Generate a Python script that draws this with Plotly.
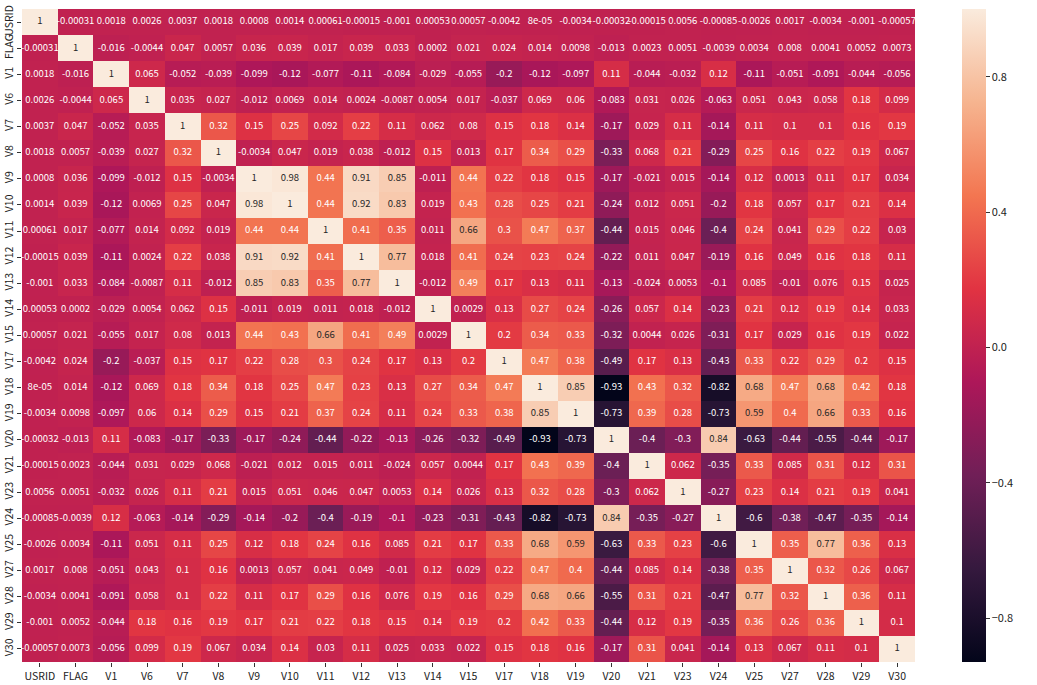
import plotly.graph_objects as go

labels = ["USRID", "FLAG", "V1", "V6", "V7", "V8", "V9", "V10", "V11", "V12", "V13", "V14", "V15",
          "V17", "V18", "V19", "V20", "V21", "V23", "V24", "V25", "V27", "V28", "V29", "V30"]

r_USRID = [1, -0.00031, 0.0018, 0.0026, 0.0037, 0.0018, 0.0008, 0.0014, 0.00061, -0.00015, -0.001, 0.00053, 0.00057, -0.0042, 8e-05, -0.0034, -0.00032, -0.00015, 0.0056, -0.00085, -0.0026, 0.0017, -0.0034, -0.001, -0.00057]
r_FLAG = [-0.00031, 1, -0.016, -0.0044, 0.047, 0.0057, 0.036, 0.039, 0.017, 0.039, 0.033, 0.0002, 0.021, 0.024, 0.014, 0.0098, -0.013, 0.0023, 0.0051, -0.0039, 0.0034, 0.008, 0.0041, 0.0052, 0.0073]
r_V1 = [0.0018, -0.016, 1, 0.065, -0.052, -0.039, -0.099, -0.12, -0.077, -0.11, -0.084, -0.029, -0.055, -0.2, -0.12, -0.097, 0.11, -0.044, -0.032, 0.12, -0.11, -0.051, -0.091, -0.044, -0.056]
r_V6 = [0.0026, -0.0044, 0.065, 1, 0.035, 0.027, -0.012, 0.0069, 0.014, 0.0024, -0.0087, 0.0054, 0.017, -0.037, 0.069, 0.06, -0.083, 0.031, 0.026, -0.063, 0.051, 0.043, 0.058, 0.18, 0.099]
r_V7 = [0.0037, 0.047, -0.052, 0.035, 1, 0.32, 0.15, 0.25, 0.092, 0.22, 0.11, 0.062, 0.08, 0.15, 0.18, 0.14, -0.17, 0.029, 0.11, -0.14, 0.11, 0.1, 0.1, 0.16, 0.19]
r_V8 = [0.0018, 0.0057, -0.039, 0.027, 0.32, 1, -0.0034, 0.047, 0.019, 0.038, -0.012, 0.15, 0.013, 0.17, 0.34, 0.29, -0.33, 0.068, 0.21, -0.29, 0.25, 0.16, 0.22, 0.19, 0.067]
r_V9 = [0.0008, 0.036, -0.099, -0.012, 0.15, -0.0034, 1, 0.98, 0.44, 0.91, 0.85, -0.011, 0.44, 0.22, 0.18, 0.15, -0.17, -0.021, 0.015, -0.14, 0.12, 0.0013, 0.11, 0.17, 0.034]
r_V10 = [0.0014, 0.039, -0.12, 0.0069, 0.25, 0.047, 0.98, 1, 0.44, 0.92, 0.83, 0.019, 0.43, 0.28, 0.25, 0.21, -0.24, 0.012, 0.051, -0.2, 0.18, 0.057, 0.17, 0.21, 0.14]
r_V11 = [0.00061, 0.017, -0.077, 0.014, 0.092, 0.019, 0.44, 0.44, 1, 0.41, 0.35, 0.011, 0.66, 0.3, 0.47, 0.37, -0.44, 0.015, 0.046, -0.4, 0.24, 0.041, 0.29, 0.22, 0.03]
r_V12 = [-0.00015, 0.039, -0.11, 0.0024, 0.22, 0.038, 0.91, 0.92, 0.41, 1, 0.77, 0.018, 0.41, 0.24, 0.23, 0.24, -0.22, 0.011, 0.047, -0.19, 0.16, 0.049, 0.16, 0.18, 0.11]
r_V13 = [-0.001, 0.033, -0.084, -0.0087, 0.11, -0.012, 0.85, 0.83, 0.35, 0.77, 1, -0.012, 0.49, 0.17, 0.13, 0.11, -0.13, -0.024, 0.0053, -0.1, 0.085, -0.01, 0.076, 0.15, 0.025]
r_V14 = [0.00053, 0.0002, -0.029, 0.0054, 0.062, 0.15, -0.011, 0.019, 0.011, 0.018, -0.012, 1, 0.0029, 0.13, 0.27, 0.24, -0.26, 0.057, 0.14, -0.23, 0.21, 0.12, 0.19, 0.14, 0.033]
r_V15 = [0.00057, 0.021, -0.055, 0.017, 0.08, 0.013, 0.44, 0.43, 0.66, 0.41, 0.49, 0.0029, 1, 0.2, 0.34, 0.33, -0.32, 0.0044, 0.026, -0.31, 0.17, 0.029, 0.16, 0.19, 0.022]
r_V17 = [-0.0042, 0.024, -0.2, -0.037, 0.15, 0.17, 0.22, 0.28, 0.3, 0.24, 0.17, 0.13, 0.2, 1, 0.47, 0.38, -0.49, 0.17, 0.13, -0.43, 0.33, 0.22, 0.29, 0.2, 0.15]
r_V18 = [8e-05, 0.014, -0.12, 0.069, 0.18, 0.34, 0.18, 0.25, 0.47, 0.23, 0.13, 0.27, 0.34, 0.47, 1, 0.85, -0.93, 0.43, 0.32, -0.82, 0.68, 0.47, 0.68, 0.42, 0.18]
r_V19 = [-0.0034, 0.0098, -0.097, 0.06, 0.14, 0.29, 0.15, 0.21, 0.37, 0.24, 0.11, 0.24, 0.33, 0.38, 0.85, 1, -0.73, 0.39, 0.28, -0.73, 0.59, 0.4, 0.66, 0.33, 0.16]
r_V20 = [-0.00032, -0.013, 0.11, -0.083, -0.17, -0.33, -0.17, -0.24, -0.44, -0.22, -0.13, -0.26, -0.32, -0.49, -0.93, -0.73, 1, -0.4, -0.3, 0.84, -0.63, -0.44, -0.55, -0.44, -0.17]
r_V21 = [-0.00015, 0.0023, -0.044, 0.031, 0.029, 0.068, -0.021, 0.012, 0.015, 0.011, -0.024, 0.057, 0.0044, 0.17, 0.43, 0.39, -0.4, 1, 0.062, -0.35, 0.33, 0.085, 0.31, 0.12, 0.31]
r_V23 = [0.0056, 0.0051, -0.032, 0.026, 0.11, 0.21, 0.015, 0.051, 0.046, 0.047, 0.0053, 0.14, 0.026, 0.13, 0.32, 0.28, -0.3, 0.062, 1, -0.27, 0.23, 0.14, 0.21, 0.19, 0.041]
r_V24 = [-0.00085, -0.0039, 0.12, -0.063, -0.14, -0.29, -0.14, -0.2, -0.4, -0.19, -0.1, -0.23, -0.31, -0.43, -0.82, -0.73, 0.84, -0.35, -0.27, 1, -0.6, -0.38, -0.47, -0.35, -0.14]
r_V25 = [-0.0026, 0.0034, -0.11, 0.051, 0.11, 0.25, 0.12, 0.18, 0.24, 0.16, 0.085, 0.21, 0.17, 0.33, 0.68, 0.59, -0.63, 0.33, 0.23, -0.6, 1, 0.35, 0.77, 0.36, 0.13]
r_V27 = [0.0017, 0.008, -0.051, 0.043, 0.1, 0.16, 0.0013, 0.057, 0.041, 0.049, -0.01, 0.12, 0.029, 0.22, 0.47, 0.4, -0.44, 0.085, 0.14, -0.38, 0.35, 1, 0.32, 0.26, 0.067]
r_V28 = [-0.0034, 0.0041, -0.091, 0.058, 0.1, 0.22, 0.11, 0.17, 0.29, 0.16, 0.076, 0.19, 0.16, 0.29, 0.68, 0.66, -0.55, 0.31, 0.21, -0.47, 0.77, 0.32, 1, 0.36, 0.11]
r_V29 = [-0.001, 0.0052, -0.044, 0.18, 0.16, 0.19, 0.17, 0.21, 0.22, 0.18, 0.15, 0.14, 0.19, 0.2, 0.42, 0.33, -0.44, 0.12, 0.19, -0.35, 0.36, 0.26, 0.36, 1, 0.1]
r_V30 = [-0.00057, 0.0073, -0.056, 0.099, 0.19, 0.067, 0.034, 0.14, 0.03, 0.11, 0.025, 0.033, 0.022, 0.15, 0.18, 0.16, -0.17, 0.31, 0.041, -0.14, 0.13, 0.067, 0.11, 0.1, 1]

z = [r_USRID, r_FLAG, r_V1, r_V6, r_V7, r_V8, r_V9, r_V10, r_V11, r_V12, r_V13, r_V14, r_V15,
     r_V17, r_V18, r_V19, r_V20, r_V21, r_V23, r_V24, r_V25, r_V27, r_V28, r_V29, r_V30]

zmin = min(min(r) for r in z)
zmax = max(max(r) for r in z)

# seaborn "rocket" colormap approximation
rocket = [
    [0.0, "#03051a"], [1/7, "#35193e"], [2/7, "#701f57"], [3/7, "#ad1759"],
    [4/7, "#e13342"], [5/7, "#f37651"], [6/7, "#f6b48f"], [1.0, "#faebdd"],
]

def hex_rgb(h):
    h = h.lstrip("#")
    return [int(h[i:i + 2], 16) / 255 for i in (0, 2, 4)]

def color_at(t):
    for (p0, c0), (p1, c1) in zip(rocket[:-1], rocket[1:]):
        if p0 <= t <= p1:
            f = (t - p0) / (p1 - p0) if p1 > p0 else 0
            a, b = hex_rgb(c0), hex_rgb(c1)
            return [a[k] + (b[k] - a[k]) * f for k in range(3)]
    return hex_rgb(rocket[-1][1])

def lum(rgb):
    lin = [c / 12.92 if c <= 0.03928 else ((c + 0.055) / 1.055) ** 2.4 for c in rgb]
    return 0.2126 * lin[0] + 0.7152 * lin[1] + 0.0722 * lin[2]

FONT = "Noto Sans CJK SC"

fig = go.Figure()
fig.add_trace(go.Heatmap(
    z=z, x=labels, y=labels, zmin=zmin, zmax=zmax, colorscale=rocket,
    hoverinfo="skip",
    colorbar=dict(
        thickness=24, len=1.0, lenmode="fraction", y=0.5, yanchor="middle",
        x=1.053, xanchor="left", outlinewidth=0, xpad=0, ypad=0,
        tickvals=[-0.8, -0.4, 0, 0.4, 0.8], tickformat=".1f",
        ticks="outside", ticklen=4, tickcolor="#333",
        tickfont=dict(family=FONT, size=11, color="#222"),
    ),
))

dark_x, dark_y, dark_t = [], [], []
light_x, light_y, light_t = [], [], []
for i, row in enumerate(z):
    for j, v in enumerate(row):
        txt = format(v, ".2g")
        t = (v - zmin) / (zmax - zmin)
        if lum(color_at(t)) > 0.408:
            dark_x.append(labels[j]); dark_y.append(labels[i]); dark_t.append(txt)
        else:
            light_x.append(labels[j]); light_y.append(labels[i]); light_t.append(txt)

fig.add_trace(go.Scatter(x=light_x, y=light_y, text=light_t, mode="text",
                         textfont=dict(family=FONT, size=9.5, color="white"),
                         hoverinfo="skip", showlegend=False))
fig.add_trace(go.Scatter(x=dark_x, y=dark_y, text=dark_t, mode="text",
                         textfont=dict(family=FONT, size=9.5, color="#262626"),
                         hoverinfo="skip", showlegend=False))

fig.update_layout(
    width=1037, height=685,
    margin=dict(l=22, r=122, t=9, b=23),
    paper_bgcolor="white", plot_bgcolor="white",
    font=dict(family=FONT, size=11, color="#222"),
    showlegend=False,
)
fig.update_xaxes(type="category", categoryorder="array", categoryarray=labels,
                 ticks="outside", ticklen=4, tickcolor="#333", showgrid=False,
                 zeroline=False, tickangle=0, range=[-0.5, len(labels) - 0.5],
                 automargin=False, tickfont=dict(family=FONT, size=10.5))
fig.update_yaxes(type="category", categoryorder="array", categoryarray=labels,
                 ticks="outside", ticklen=4, tickcolor="#333", showgrid=False,
                 zeroline=False, tickangle=-90, range=[len(labels) - 0.5, -0.5],
                 automargin=False, tickfont=dict(family=FONT, size=10.5))

# remove the browser's default body margin so the figure starts at the page corner
fig.write_html("out.html", config={"displayModeBar": False},
               post_script="document.body.style.margin='0';document.body.style.overflow='hidden';")
